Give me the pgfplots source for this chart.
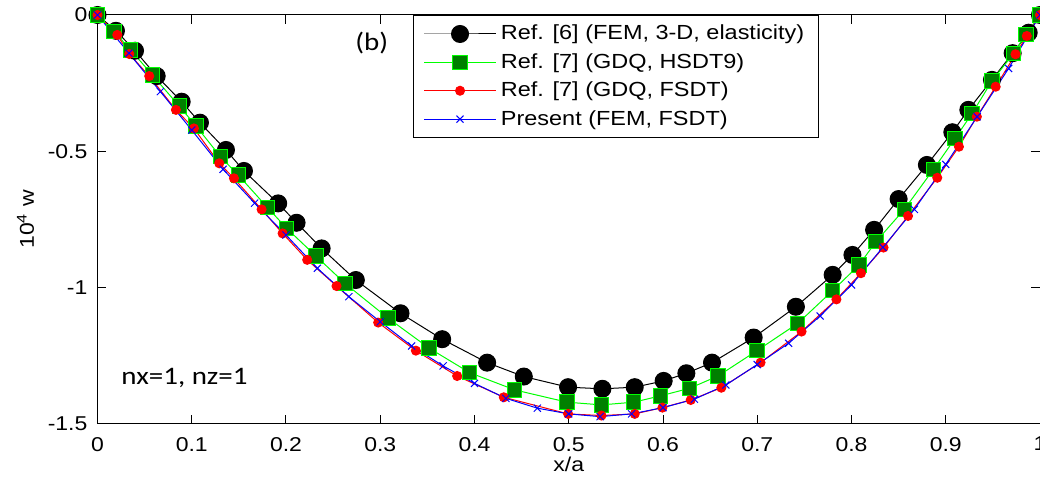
\documentclass[border=0pt]{standalone}
\usepackage{fontspec}
\setmainfont{Liberation Sans}[FakeStretch=1.15]
\newfontfamily\calib{Carlito}[FakeStretch=1.15]
\usepackage{pgfplots}
\pgfplotsset{compat=1.18}
\usetikzlibrary{calc}
\definecolor{mgreen}{RGB}{0,255,0}
\definecolor{dgreen}{RGB}{0,128,0}
\begin{document}
\begin{tikzpicture}
\begin{axis}[
  width=471.25pt, height=204.5pt, scale only axis,
  xmin=0, xmax=1, ymin=-1.5, ymax=0,
  clip=false,
  axis line style={black, line width=0.5pt},
  tick align=inside, major tick length=4.5pt,
  tick style={black, line width=0.5pt},
  xtick={0,0.1,0.2,0.3,0.4,0.5,0.6,0.7,0.8,0.9,1},
  xticklabels={0,0.1,0.2,0.3,0.4,0.5,0.6,0.7,0.8,0.9,1},
  ytick={-1.5,-1,-0.5,0},
  yticklabels={-1.5,-1,-0.5,0},
  ticklabel style={font=\fontsize{10}{12}\selectfont},
  xticklabel style={yshift=-3pt},
  yticklabel style={xshift=-1.5pt},
  xlabel={x/a},
  ylabel={10\textsuperscript{4} w},
  every axis x label/.style={at={(axis description cs:0.5,-0.0975)}, anchor=center, font=\fontsize{10}{12}\selectfont},
  every axis y label/.style={at={(axis description cs:-0.0764,0.5)}, anchor=center, rotate=90, font=\fontsize{10}{12}\selectfont},
  legend style={at={(rel axis cs:0.3348,1)}, anchor=north west, draw=black, line width=0.5pt,
    font=\fontsize{10.2}{12}\selectfont, inner xsep=5pt, inner ysep=3.6pt, row sep=2.9pt,
    nodes={inner xsep=2.2pt, inner ysep=1.2pt}},
  legend cell align=left,
  legend image code/.code={\draw[mark repeat=2,mark phase=2] plot coordinates {(0pt,0pt) (18pt,0pt) (36pt,0pt)};},
]
\coordinate (SW) at (rel axis cs:0,0);
\addplot[black, line width=0.5pt, mark=*, mark size=4.25pt, mark options={fill=black, draw=black}] coordinates {
(0,0) (0.0196,-0.058) (0.0398,-0.131) (0.0628,-0.224) (0.0893,-0.318) (0.1087,-0.395)
(0.1363,-0.495) (0.1554,-0.572) (0.1917,-0.691) (0.2112,-0.762) (0.2378,-0.856)
(0.2741,-0.972) (0.3215,-1.094) (0.3657,-1.189) (0.4134,-1.275) (0.4523,-1.326)
(0.4993,-1.365) (0.5357,-1.371) (0.5700,-1.365) (0.6007,-1.342) (0.6248,-1.314)
(0.6520,-1.275) (0.6962,-1.183) (0.741,-1.070) (0.780,-0.953) (0.801,-0.880)
(0.824,-0.788) (0.850,-0.675) (0.880,-0.550) (0.907,-0.430) (0.924,-0.348)
(0.949,-0.238) (0.971,-0.140) (0.988,-0.065) (1.0,0)};
\addlegendentry{Ref. [6] (FEM, 3-D, elasticity)}
\addplot[mgreen, line width=0.5pt, mark=square*, mark size=3.6pt, mark options={fill=dgreen, draw=mgreen}] coordinates {
(0,0) (0.0175,-0.061) (0.0352,-0.128) (0.0581,-0.220) (0.0867,-0.334) (0.1045,-0.407)
(0.1306,-0.520) (0.1493,-0.587) (0.1801,-0.705) (0.2006,-0.782) (0.2317,-0.884)
(0.2625,-0.984) (0.3084,-1.112) (0.3519,-1.222) (0.3950,-1.312) (0.4427,-1.375)
(0.4982,-1.420) (0.5347,-1.430) (0.5690,-1.420) (0.5972,-1.397) (0.6283,-1.369)
(0.6584,-1.324) (0.6997,-1.231) (0.743,-1.131) (0.780,-1.011) (0.808,-0.917)
(0.826,-0.831) (0.856,-0.713) (0.887,-0.566) (0.910,-0.452) (0.928,-0.361)
(0.949,-0.242) (0.972,-0.141) (0.985,-0.071) (1.0,0)};
\addlegendentry{Ref. [7] (GDQ, HSDT9)}
\addplot[red, line width=0.5pt, mark=*, mark size=2.25pt, mark options={fill=red, draw=red}] coordinates {
(0,0) (0.021,-0.073) (0.0337,-0.143) (0.0549,-0.224) (0.0832,-0.348) (0.1023,-0.416)
(0.1292,-0.544) (0.1448,-0.599) (0.1741,-0.713) (0.1964,-0.801) (0.2225,-0.898)
(0.2536,-0.994) (0.2978,-1.128) (0.3378,-1.231) (0.3816,-1.324) (0.4311,-1.402)
(0.4993,-1.463) (0.5347,-1.469) (0.5700,-1.463) (0.5994,-1.440) (0.6294,-1.412)
(0.6619,-1.367) (0.7035,-1.275) (0.747,-1.161) (0.784,-1.043) (0.810,-0.947)
(0.834,-0.853) (0.860,-0.737) (0.891,-0.597) (0.914,-0.483) (0.933,-0.373)
(0.953,-0.263) (0.974,-0.144) (0.986,-0.077) (1.0,0)};
\addlegendentry{Ref. [7] (GDQ, FSDT)}
\addplot[blue, line width=0.5pt, mark=x, mark size=2.5pt, mark options={draw=blue}] coordinates {
(0,0) (0.0333,-0.140) (0.0667,-0.281) (0.1,-0.422) (0.1333,-0.566) (0.1667,-0.690)
(0.2,-0.807) (0.2333,-0.929) (0.2667,-1.033) (0.3,-1.125) (0.3333,-1.214)
(0.3667,-1.287) (0.4,-1.351) (0.4333,-1.406) (0.4667,-1.442) (0.5,-1.463)
(0.5333,-1.473) (0.5667,-1.463) (0.6,-1.440) (0.6333,-1.409) (0.6667,-1.357)
(0.7,-1.282) (0.7333,-1.204) (0.7667,-1.104) (0.8,-0.990) (0.8333,-0.852)
(0.8667,-0.713) (0.9,-0.548) (0.9333,-0.373) (0.9667,-0.196) (1,0)};
\addlegendentry{Present (FEM, FSDT)}
\node[font=\calib\fontsize{12.6}{14}\selectfont, anchor=center] at (axis cs:0.2909,-0.103) {(b)};
\node[font=\calib\fontsize{12.6}{14}\selectfont, anchor=center] at (axis cs:0.0923,-1.331) {nx=1, nz=1};
\end{axis}
\pgfresetboundingbox
\path[use as bounding box] ($(SW)+(-48.75pt,-28pt)$) rectangle ($(SW)+(471.25pt,212pt)$);
\end{tikzpicture}
\end{document}
